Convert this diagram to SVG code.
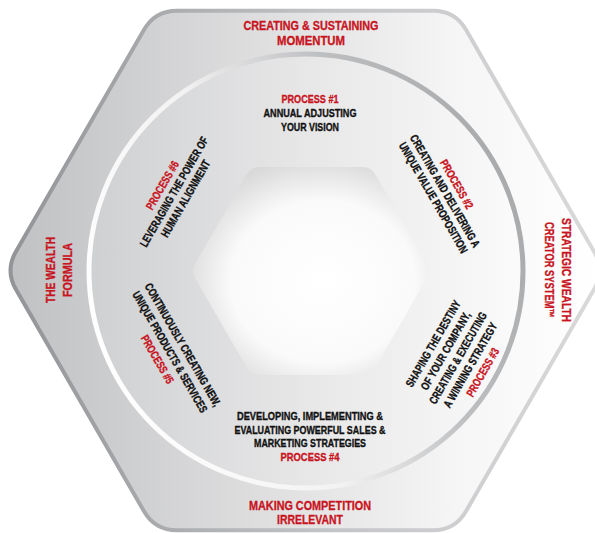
<svg xmlns="http://www.w3.org/2000/svg" width="595" height="533" viewBox="0 0 595 533">
  <defs>
    <linearGradient id="outerFill" x1="0" y1="0" x2="1" y2="0">
      <stop offset="0" stop-color="#c0c1c3"/>
      <stop offset="0.45" stop-color="#e0e0e1"/>
      <stop offset="0.75" stop-color="#f5f5f5"/>
      <stop offset="1" stop-color="#ffffff"/>
    </linearGradient>
    <linearGradient id="outerStroke" x1="0" y1="0" x2="1" y2="0">
      <stop offset="0" stop-color="#939497"/>
      <stop offset="0.55" stop-color="#c4c5c7"/>
      <stop offset="1" stop-color="#d9d9da"/>
    </linearGradient>
    <linearGradient id="circFill" x1="0" y1="0" x2="1" y2="0">
      <stop offset="0" stop-color="#cfd0d2"/>
      <stop offset="0.5" stop-color="#e7e7e8"/>
      <stop offset="1" stop-color="#fbfbfb"/>
    </linearGradient>
    <linearGradient id="circStroke" x1="0" y1="0.7" x2="1" y2="0.3">
      <stop offset="0" stop-color="#ffffff"/>
      <stop offset="0.4" stop-color="#f2f2f2"/>
      <stop offset="0.7" stop-color="#bebfc1"/>
      <stop offset="1" stop-color="#a7a8aa"/>
    </linearGradient>
    <radialGradient id="hexFill" cx="0.55" cy="0.55" r="0.6">
      <stop offset="0" stop-color="#ffffff"/>
      <stop offset="0.65" stop-color="#fafafa"/>
      <stop offset="1" stop-color="#d9d9da"/>
    </radialGradient>
    <style>
      text { font-family: "Liberation Sans", Arial, sans-serif; font-weight: bold; text-anchor: middle; stroke-width: 0.35px; }
      .r { font-size: 13px; fill: #c8141e; stroke: #c8141e; }
      .p { font-size: 11.5px; fill: #c8141e; stroke: #c8141e; }
      .b { font-size: 11.5px; fill: #111111; stroke: #111111; }
    </style>
  </defs>

  <g id="outer-hexagon">
    <path d="M16,251.45 L144,29.75 Q155,10.7 177,10.7 L433,10.7 Q455,10.7 466,29.75 L594,251.45 Q605,270.5 594,289.55 L466,511.25 Q455,530.3 433,530.3 L177,530.3 Q155,530.3 144,511.25 L16,289.55 Q5,270.5 16,251.45 Z" fill="url(#outerFill)" stroke="url(#outerStroke)" stroke-width="4"/>
  </g>

  <g id="process-circle">
    <circle cx="306" cy="271" r="217" fill="url(#circFill)" stroke="url(#circStroke)" stroke-width="5"/>
  </g>

  <g id="inner-hexagon">
    <path d="M195,264 L247,174 Q251,167 259,167 L363,167 Q371,167 375,174 L427,264 Q431,271 427,278 L375,368 Q371,375 363,375 L259,375 Q251,375 247,368 L195,278 Q191,271 195,264 Z" fill="url(#hexFill)"/>
  </g>

  <g id="connectors"/>

  <g id="label-top">
    <text class="r" x="311" y="30" textLength="135" lengthAdjust="spacingAndGlyphs">CREATING &amp; SUSTAINING</text>
    <text class="r" x="311" y="44.5" textLength="68" lengthAdjust="spacingAndGlyphs">MOMENTUM</text>
  </g>

  <g id="label-bottom">
    <text class="r" x="310" y="509.5" textLength="122" lengthAdjust="spacingAndGlyphs">MAKING COMPETITION</text>
    <text class="r" x="310" y="524" textLength="66" lengthAdjust="spacingAndGlyphs">IRRELEVANT</text>
  </g>

  <g id="label-left" transform="translate(55,270) rotate(-90)">
    <text class="r" x="0" y="0" textLength="66" lengthAdjust="spacingAndGlyphs">THE WEALTH</text>
    <text class="r" x="0" y="17" textLength="54" lengthAdjust="spacingAndGlyphs">FORMULA</text>
  </g>

  <g id="label-right" transform="translate(562,270) rotate(90)">
    <text class="r" x="0" y="0" textLength="104" lengthAdjust="spacingAndGlyphs">STRATEGIC WEALTH</text>
    <text class="r" x="0" y="17" textLength="96" lengthAdjust="spacingAndGlyphs">CREATOR SYSTEM™</text>
  </g>

  <g id="process-1">
    <text class="p" x="310" y="103" textLength="57" lengthAdjust="spacingAndGlyphs">PROCESS #1</text>
    <text class="b" x="310" y="117" textLength="93" lengthAdjust="spacingAndGlyphs">ANNUAL ADJUSTING</text>
    <text class="b" x="310" y="130.5" textLength="58" lengthAdjust="spacingAndGlyphs">YOUR VISION</text>
  </g>

  <g id="process-2" transform="translate(445,191) rotate(60)">
    <text class="p" x="0" y="-9.6" textLength="55" lengthAdjust="spacingAndGlyphs">PROCESS #2</text>
    <text class="b" x="0" y="3.9" textLength="128" lengthAdjust="spacingAndGlyphs">CREATING AND DELIVERING A</text>
    <text class="b" x="0" y="17.4" textLength="126" lengthAdjust="spacingAndGlyphs">UNIQUE VALUE PROPOSITION</text>
  </g>

  <g id="process-3" transform="translate(458,358) rotate(-60)">
    <text class="b" x="0" y="-24.7" textLength="98" lengthAdjust="spacingAndGlyphs">SHAPING THE DESTINY</text>
    <text class="b" x="0" y="-10.4" textLength="88" lengthAdjust="spacingAndGlyphs">OF YOUR COMPANY,</text>
    <text class="b" x="0" y="3.9" textLength="104" lengthAdjust="spacingAndGlyphs">CREATING &amp; EXECUTING</text>
    <text class="b" x="0" y="18.2" textLength="96" lengthAdjust="spacingAndGlyphs">A WINNING STRATEGY</text>
    <text class="p" x="0" y="32.5" textLength="54" lengthAdjust="spacingAndGlyphs">PROCESS #3</text>
  </g>

  <g id="process-4">
    <text class="b" x="310" y="420" textLength="146" lengthAdjust="spacingAndGlyphs">DEVELOPING, IMPLEMENTING &amp;</text>
    <text class="b" x="310" y="433.5" textLength="151" lengthAdjust="spacingAndGlyphs">EVALUATING POWERFUL SALES &amp;</text>
    <text class="b" x="310" y="447" textLength="112" lengthAdjust="spacingAndGlyphs">MARKETING STRATEGIES</text>
    <text class="p" x="310" y="460.5" textLength="59" lengthAdjust="spacingAndGlyphs">PROCESS #4</text>
  </g>

  <g id="process-5" transform="translate(170,352) rotate(60)">
    <text class="b" x="0" y="-10.8" textLength="140" lengthAdjust="spacingAndGlyphs">CONTINUOUSLY CREATING NEW,</text>
    <text class="b" x="0" y="3.9" textLength="138" lengthAdjust="spacingAndGlyphs">UNIQUE PRODUCTS &amp; SERVICES</text>
    <text class="p" x="0" y="18.6" textLength="54" lengthAdjust="spacingAndGlyphs">PROCESS #5</text>
  </g>

  <g id="process-6" transform="translate(174,192) rotate(-60)">
    <text class="p" x="0" y="-9.5" textLength="54" lengthAdjust="spacingAndGlyphs">PROCESS #6</text>
    <text class="b" x="0" y="3.9" textLength="125" lengthAdjust="spacingAndGlyphs">LEVERAGING THE POWER OF</text>
    <text class="b" x="0" y="17.3" textLength="87" lengthAdjust="spacingAndGlyphs">HUMAN ALIGNMENT</text>
  </g>
</svg>
